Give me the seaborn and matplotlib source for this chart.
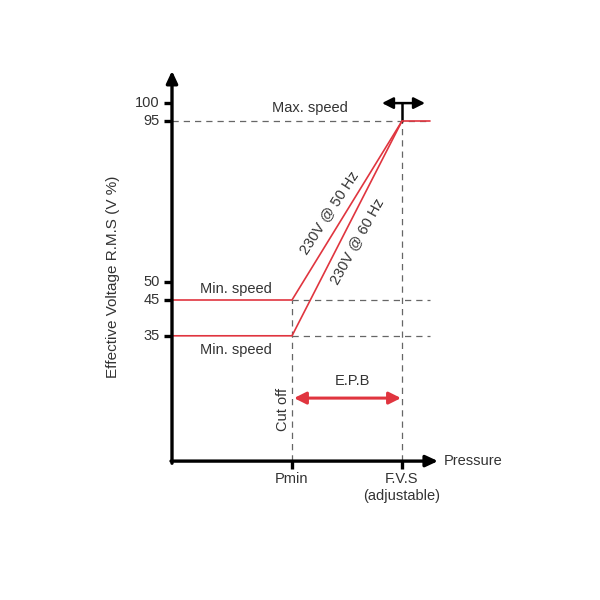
import numpy as np
import pandas as pd
import matplotlib.pyplot as plt
import seaborn as sns

# values (pressure in arbitrary units, voltage in %)
p_min = 12.0
p_fvs = 23.0
p_end = 25.8
v_max = 95
v_top = 100
v_min_50 = 45
v_min_60 = 35
y_ticks = [100, 95, 50, 45, 35]
x_ticks = [p_min, p_fvs]
x_tick_labels = ["Pmin", "F.V.S\n(adjustable)"]

curve_50 = pd.DataFrame({"p": [0, p_min, p_fvs, p_end],
                         "v": [v_min_50, v_min_50, v_max, v_max],
                         "curve": "50 Hz"})
curve_60 = pd.DataFrame({"p": [0, p_min, p_fvs],
                         "v": [v_min_60, v_min_60, v_max],
                         "curve": "60 Hz"})
curves = pd.concat([curve_50, curve_60], ignore_index=True)

sns.set_theme(style="white")
plt.rcParams['font.family'] = ['Liberation Sans', 'DejaVu Sans']

red = "#e0353f"
txt = "#333333"
dash = "#666666"

fig = plt.figure(figsize=(6, 6), dpi=100)
ax = fig.add_axes([0, 0, 1, 1])
ax.set_xlim(-17.2, 42.8)
ax.set_ylim(-38.8, 128.8)

# dashed guide lines
dkw = dict(color=dash, lw=0.9, ls=(0, (5, 4)), zorder=1)
ax.plot([0, p_end], [v_max, v_max], **dkw)
ax.plot([p_min, p_end], [v_min_50, v_min_50], **dkw)
ax.plot([p_min, p_end], [v_min_60, v_min_60], **dkw)
ax.plot([p_min, p_min], [0, v_min_50], **dkw)
ax.plot([p_fvs, p_fvs], [0, v_max], **dkw)

# red curves
sns.lineplot(data=curves, x="p", y="v", units="curve", estimator=None,
             sort=False, color=red, lw=1.2, ax=ax, zorder=3, legend=False)
ax.set_xlabel("")
ax.set_ylabel("")
ax.axis("off")

# axes with arrows
ax.annotate("", xy=(0, 109), xytext=(0, -0.6),
            arrowprops=dict(arrowstyle="-|>,head_length=0.6,head_width=0.28",
                            color="black", lw=2.4, shrinkA=0, shrinkB=0))
ax.annotate("", xy=(26.6, 0), xytext=(-0.1, 0),
            arrowprops=dict(arrowstyle="-|>,head_length=0.6,head_width=0.28",
                            color="black", lw=2.4, shrinkA=0, shrinkB=0))

# tick marks and labels
for v in y_ticks:
    ax.plot([-0.8, 0], [v, v], color="black", lw=2.4, solid_capstyle="butt")
    ax.text(-1.2, v, str(v), ha="right", va="center", fontsize=10.5, color=txt)
for p, lab in zip(x_ticks, x_tick_labels):
    ax.plot([p, p], [0, -2.2], color="black", lw=2.4, solid_capstyle="butt")
    ax.text(p, -3.0, lab, ha="center", va="top", fontsize=10.5, color=txt,
            linespacing=1.3)

ax.text(27.2, 0, "Pressure", ha="left", va="center", fontsize=10.5, color=txt)
ax.text(-5.9, 51.4, "Effective Voltage R.M.S (V %)", rotation=90,
        ha="center", va="center", fontsize=11, color=txt)

# annotations
ax.text(13.8, 98.6, "Max. speed", ha="center", va="center", fontsize=10.5, color=txt)
ax.text(6.4, 48.0, "Min. speed", ha="center", va="center", fontsize=10.5, color=txt)
ax.text(6.4, 31.0, "Min. speed", ha="center", va="center", fontsize=10.5, color=txt)
ax.text(11.1, 14.5, "Cut off", rotation=90, ha="center", va="center",
        fontsize=10.5, color=txt)
ax.text(18.0, 22.3, "E.P.B", ha="center", va="center", fontsize=10.5, color=txt)
ax.text(15.7, 69.5, "230V @ 50 Hz", rotation=57, ha="center", va="center",
        fontsize=10.5, color=txt)
ax.text(18.5, 61.5, "230V @ 60 Hz", rotation=61, ha="center", va="center",
        fontsize=10.5, color=txt)

# E.P.B band arrow
ax.annotate("", xy=(p_fvs - 0.1, 17.6), xytext=(p_min + 0.2, 17.6),
            arrowprops=dict(arrowstyle="<|-|>,head_length=0.6,head_width=0.3",
                            color=red, lw=2.2, shrinkA=0, shrinkB=0))

# adjustable F.V.S marker
ax.plot([p_fvs, p_fvs], [v_max, v_top], color="black", lw=1.8)
ax.annotate("", xy=(25.3, v_top), xytext=(21.0, v_top),
            arrowprops=dict(arrowstyle="<|-|>,head_length=0.55,head_width=0.28",
                            color="black", lw=1.8, shrinkA=0, shrinkB=0))

fig.savefig("out.png", dpi=100, facecolor="white")
